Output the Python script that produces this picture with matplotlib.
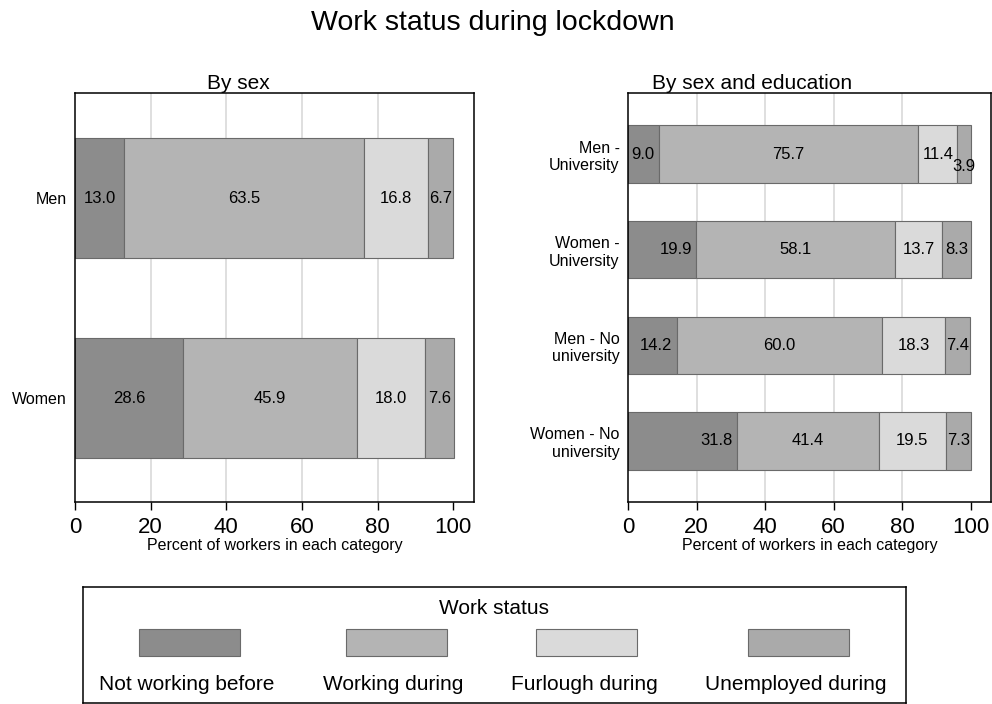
import matplotlib
matplotlib.use('Agg')
import matplotlib.pyplot as plt
from matplotlib.patches import Rectangle

plt.rcParams['font.family'] = ['Liberation Sans', 'DejaVu Sans']

# data
statuses = ['Not working before', 'Working during', 'Furlough during', 'Unemployed during']
colors = ['#8c8c8c', '#b4b4b4', '#dadada', '#aaaaaa']

sex_groups = ['Men', 'Women']
sex_not_working = [13.0, 28.6]
sex_working = [63.5, 45.9]
sex_furlough = [16.8, 18.0]
sex_unemployed = [6.7, 7.6]

edu_groups = ['Men -\nUniversity', 'Women -\nUniversity', 'Men - No\nuniversity', 'Women - No\nuniversity']
edu_not_working = [9.0, 19.9, 14.2, 31.8]
edu_working = [75.7, 58.1, 60.0, 41.4]
edu_furlough = [11.4, 13.7, 18.3, 19.5]
edu_unemployed = [3.9, 8.3, 7.4, 7.3]

xticks = [0, 20, 40, 60, 80, 100]


def stacked(ax, groups, series, shift_first=False):
    pos = list(range(len(groups)))
    left = [0.0] * len(groups)
    for k, vals in enumerate(series):
        ax.barh(pos, vals, left=left, height=0.6, color=colors[k],
                edgecolor='#6a6a6a', linewidth=0.8, zorder=2)
        for i, v in enumerate(vals):
            x = left[i] + v / 2
            ha = 'center'
            y = pos[i]
            if shift_first and k == 0:
                x = left[i] + v - 1.2
                ha = 'right'
            if v < 5:
                y = pos[i] + 0.13
            ax.text(x, y, f'{v:.1f}', ha=ha, va='center', fontsize=12, zorder=3)
        left = [a + b for a, b in zip(left, vals)]
    ax.set_yticks(pos)
    ax.set_yticklabels(groups, ha='right')
    ax.invert_yaxis()
    ax.set_xticks(xticks)
    for t in xticks[1:-1]:
        ax.axvline(t, color='#dcdcdc', linewidth=1.3, zorder=1)
    ax.tick_params(axis='x', length=6, width=1, labelsize=16, pad=5)
    ax.tick_params(axis='y', length=0, labelsize=11.5, pad=6)
    for s in ax.spines.values():
        s.set_linewidth(1.1)
    ax.set_xlabel('Percent of workers in each category', fontsize=11.5, labelpad=0)


fig = plt.figure(figsize=(9.92, 7.04), dpi=100)
fig.text(0.497, 0.968, 'Work status during lockdown', ha='center', va='center', fontsize=20.5)

ax1 = fig.add_axes([0.0756, 0.2869, 0.4022, 0.581])
stacked(ax1, sex_groups, [sex_not_working, sex_working, sex_furlough, sex_unemployed])
ax1.set_xlim(0, 105.5)
ax1.set_ylim(1.52, -0.525)
ax1.set_title('By sex', fontsize=15, x=0.41, pad=3)

ax2 = fig.add_axes([0.6331, 0.2869, 0.3656, 0.581])
stacked(ax2, edu_groups, [edu_not_working, edu_working, edu_furlough, edu_unemployed], shift_first=True)
ax2.set_xlim(0, 105.8)
ax2.set_ylim(3.64, -0.64)
ax2.set_title('By sex and education', fontsize=15, x=0.342, pad=3)

# legend box
lax = fig.add_axes([83 / 992, 1 / 704, 823 / 992, 116 / 704])
lax.set_xlim(0, 823)
lax.set_ylim(0, 116)
lax.set_xticks([])
lax.set_yticks([])
for s in lax.spines.values():
    s.set_linewidth(1.1)
lax.text(411.5, 95, 'Work status', ha='center', va='center', fontsize=15)
centers = [106.5, 313.5, 504, 715.5]
for c, col, lab in zip(centers, colors, statuses):
    lax.add_patch(Rectangle((c - 50.5, 47), 101, 27, facecolor=col, edgecolor='#6a6a6a', linewidth=0.8))
    lax.text(c - 3, 18, lab, ha='center', va='center', fontsize=15)

plt.savefig('out.png', dpi=100)
plt.close()
